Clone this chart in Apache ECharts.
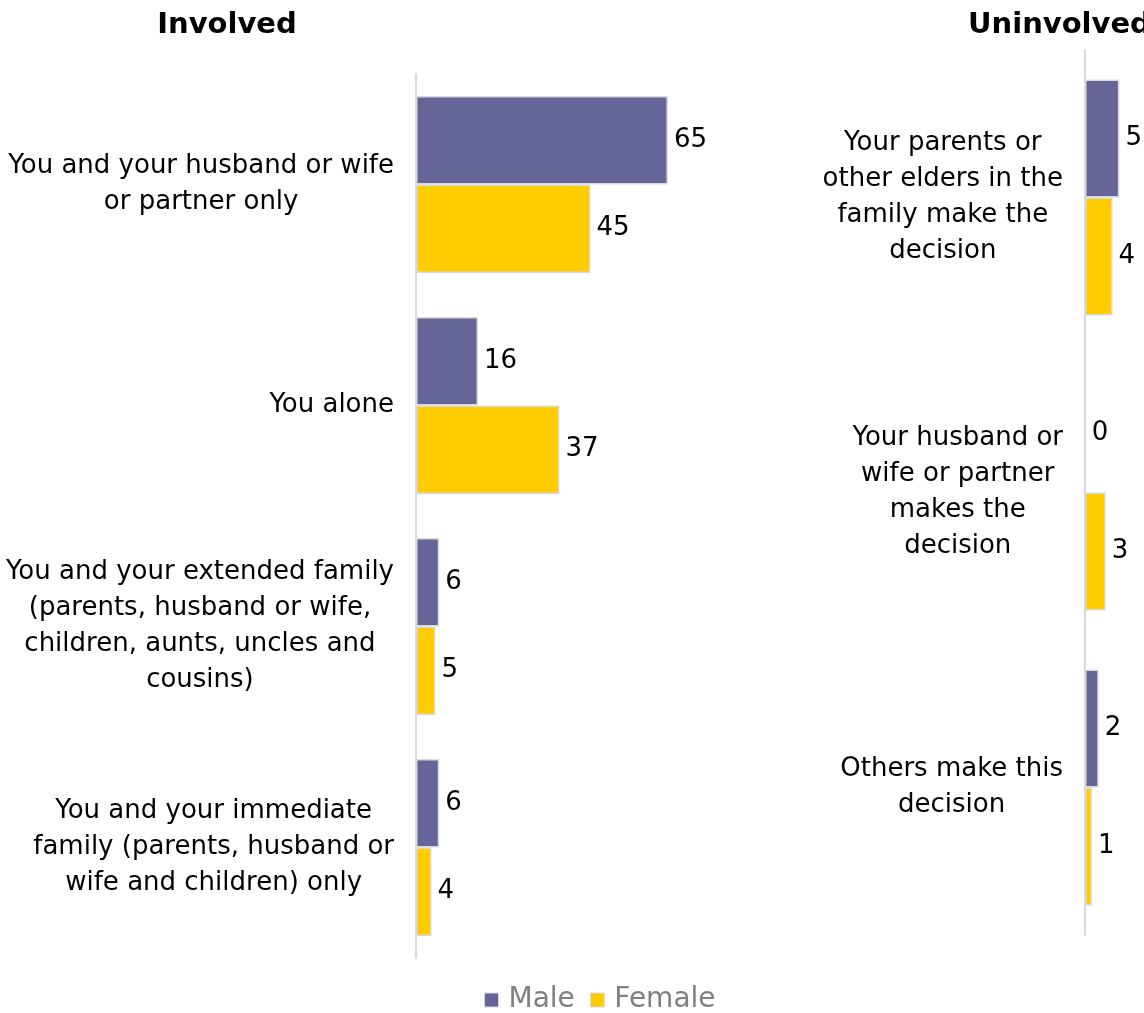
<!DOCTYPE html>
<html>
<head>
<meta charset="utf-8">
<script src="https://cdn.jsdelivr.net/npm/echarts@6/dist/echarts.min.js"></script>
<style>
  html, body { margin: 0; padding: 0; background: #fff; }
  #chart { width: 1144px; height: 1013px; }
</style>
</head>
<body>
<div id="chart"></div>
<script>
// Who makes the decision — shares by respondent gender
const involvedCategories = [
  'You and your husband or wife\nor partner only',
  'You alone',
  'You and your extended family\n(parents, husband or wife,\nchildren, aunts, uncles and\ncousins)',
  'You and your immediate\nfamily (parents, husband or\nwife and children) only'
];
const involvedMale = [65, 16, 6, 6];
const involvedFemale = [45, 37, 5, 4];

const uninvolvedCategories = [
  'Your parents or\nother elders in the\nfamily make the\ndecision',
  'Your husband or\nwife or partner\nmakes the\ndecision',
  'Others make this\ndecision'
];
const uninvolvedMale = [5, 0, 2];
const uninvolvedFemale = [4, 3, 1];

const panelTitles = ['Involved', 'Uninvolved'];
const seriesNames = ['Male', 'Female'];

const MALE = '#656598';
const FEMALE = '#FFCC00';
const FONT = 'DejaVu Sans';

// Each line of a category label is centred inside its own block
function centredLines(v) {
  return v.split('\n').map(l => '{c|' + l + '}').join('\n');
}

function catAxis(gridIndex, data) {
  return {
    type: 'category',
    gridIndex: gridIndex,
    data: data,
    inverse: true,
    axisLine: { lineStyle: { color: '#d9d9d9', width: 2 } },
    axisTick: { show: false },
    axisLabel: {
      interval: 0,
      margin: 22,
      align: 'right',
      formatter: centredLines,
      rich: {
        c: { align: 'center', fontFamily: FONT, fontSize: 26, lineHeight: 36, color: '#000' }
      }
    }
  };
}

function barSeries(name, xi, data, color) {
  return {
    name: name,
    type: 'bar',
    xAxisIndex: xi,
    yAxisIndex: xi,
    data: data,
    barGap: '0%',
    barCategoryGap: '20%',
    itemStyle: { color: color, borderColor: '#d9d9d9', borderWidth: 1.5 },
    label: {
      show: true,
      position: 'right',
      distance: 6,
      fontFamily: FONT,
      fontSize: 26,
      color: '#000'
    }
  };
}

const titleStyle = { fontFamily: FONT, fontWeight: 'bold', fontSize: 29, color: '#000' };

const chart = echarts.init(document.getElementById('chart'));
chart.setOption({
  animation: false,
  backgroundColor: '#fff',
  title: [
    { text: panelTitles[0], left: 227, textAlign: 'center', top: 11, padding: 0, textStyle: titleStyle },
    { text: panelTitles[1], left: 968, top: 11, padding: 0, textStyle: titleStyle }
  ],
  legend: {
    data: seriesNames,
    top: 981,
    left: 479,
    icon: 'rect',
    itemWidth: 14,
    itemHeight: 14,
    itemGap: 15,
    itemStyle: { borderColor: '#d9d9d9', borderWidth: 1 },
    textStyle: { fontFamily: FONT, fontSize: 28, color: '#808080', padding: [0, 0, 0, 5] }
  },
  grid: [
    { left: 416, top: 74, width: 310, height: 884 },
    { left: 1085, top: 50, width: 55, height: 885 }
  ],
  xAxis: [
    { type: 'value', gridIndex: 0, min: 0, max: 80, show: false },
    { type: 'value', gridIndex: 1, min: 0, max: 8, show: false }
  ],
  yAxis: [
    catAxis(0, involvedCategories),
    catAxis(1, uninvolvedCategories)
  ],
  series: [
    barSeries(seriesNames[0], 0, involvedMale, MALE),
    barSeries(seriesNames[1], 0, involvedFemale, FEMALE),
    barSeries(seriesNames[0], 1, uninvolvedMale, MALE),
    barSeries(seriesNames[1], 1, uninvolvedFemale, FEMALE)
  ]
});
</script>
</body>
</html>
